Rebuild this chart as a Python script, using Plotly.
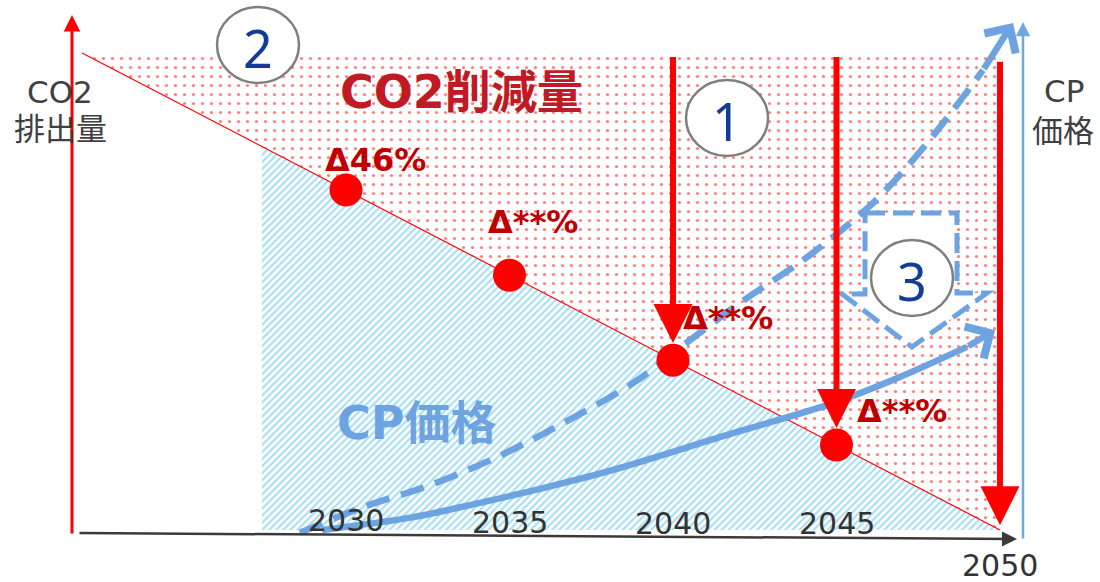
import plotly.graph_objects as go

# ---------------- data ----------------
base_year = 2021.93                      # start of the emission line (base = 100)
line_years = [base_year, 2050]
emission = [100, 0]                      # CO2 排出量 (index)
top_years = [base_year, 2050, 2050]
top_level = [100, 100, 0]

milestone_years = [2030, 2035, 2040, 2045]
milestone_emission = [71.3, 53.4, 35.6, 17.8]
milestone_labels = ["Δ46%", "Δ**%", "Δ**%", "Δ**%"]

arrow_years = [2040, 2045, 2050]
arrow_from = [99.5, 99.5, 98.5]
arrow_to = [35.6, 17.8, 0]

cp_area_years = [2027.43, 2027.43, 2050]
cp_area_top = [0, 80.4, 0]

cp_high_years = [2028.59, 2030.52, 2032.57, 2034.62, 2036.64, 2038.78, 2040.00,
                 2042.05, 2044.10, 2046.12, 2047.34, 2048.26, 2049.48, 2050.40]
cp_high = [-0.6, 4.8, 9.4, 15.3, 22.4, 30.8, 37.1, 47.6, 57.2, 68.6, 77.6, 85.3, 96.4, 106.3]

cp_low_years = [2029.27, 2032.05, 2034.10, 2036.15, 2038.17, 2041.83, 2044.89,
                2046.94, 2048.99, 2049.85]
cp_low = [0.0, 2.7, 5.7, 9.0, 12.6, 20.3, 26.6, 32.1, 38.4, 41.9]

tick_years = [2030, 2035, 2040, 2045, 2050]
tick_labels = ["2030", "2035", "2040", "2045", "2050"]

# ------------- helpers for decoration placement (pixel -> axis units) -------------
def X(px):
    return 2050 - (1000 - px) / 32.7

def Y(py):
    return (530 - py) / 4.77

RED = "#FF0000"
DARKRED = "#C00000"
BLUE = "#6CA3E0"
GRAY = "#3A3A3A"
NUMBLUE = "#123C97"
LATIN_CJK = "DejaVu Sans, Noto Sans CJK JP"

fig = go.Figure()

# dotted CO2 reduction area
fig.add_trace(go.Scatter(
    x=top_years + [line_years[0]], y=top_level + [emission[0]],
    mode="lines", fill="toself", line=dict(width=0),
    fillcolor="rgba(255,255,255,0)",
    fillpattern=dict(shape=".", fgcolor=RED, bgcolor="white", size=9, solidity=0.1),
    hoverinfo="skip"))

# hatched CP price area
fig.add_trace(go.Scatter(
    x=cp_area_years + [cp_area_years[0]], y=cp_area_top + [cp_area_top[0]],
    mode="lines", fill="toself", line=dict(width=0),
    fillcolor="rgba(255,255,255,0)",
    fillpattern=dict(shape="/", fgcolor="#52BFE6", bgcolor="white", size=5, solidity=0.45),
    hoverinfo="skip"))

# emission line
fig.add_trace(go.Scatter(x=line_years, y=emission, mode="lines",
                         line=dict(color=RED, width=1.2), hoverinfo="skip"))

# CP price curves
fig.add_trace(go.Scatter(x=cp_high_years[:-1], y=cp_high[:-1], mode="lines",
                         line=dict(color=BLUE, width=6.5, dash="24px,12px", shape="spline"),
                         hoverinfo="skip"))
fig.add_trace(go.Scatter(x=cp_low_years[:-1], y=cp_low[:-1], mode="lines",
                         line=dict(color=BLUE, width=6.5, shape="spline"),
                         hoverinfo="skip"))

# milestone dots
fig.add_trace(go.Scatter(x=milestone_years, y=milestone_emission, mode="markers",
                         marker=dict(color=RED, size=33, line=dict(width=0)),
                         hoverinfo="skip"))

annotations = []

def arrow(x, y, ax, ay, color, width, head, size):
    annotations.append(dict(x=x, y=y, ax=ax, ay=ay, xref="x", yref="y",
                            axref="x", ayref="y", text="", showarrow=True,
                            arrowhead=head, arrowsize=size, arrowwidth=width,
                            arrowcolor=color, standoff=0, startstandoff=0))

# axes
arrow(X(72), Y(15), X(72), Y(535), RED, 3, 2, 1.1)
arrow(X(1023), Y(22), X(1023), Y(540), "#6FA8DC", 2.5, 2, 1.15)
arrow(X(1017), Y(539), X(78), Y(533), GRAY, 2.5, 2, 1.2)

# curve heads
arrow(cp_high_years[-1], cp_high[-1], cp_high_years[-2], cp_high[-2], BLUE, 6.5, 4, 1.1)
arrow(cp_low_years[-1], cp_low[-1], cp_low_years[-2], cp_low[-2], BLUE, 6.5, 4, 1.1)

# reduction arrows
for yr, a0, a1 in zip(arrow_years, arrow_from, arrow_to):
    tip = a1 + (3.6 if a1 > 0 else 1.0)
    arrow(yr, tip, yr, a0, RED, 6, 2, 1.3)

def text(px, py, s, size, color, bold=False, family=LATIN_CJK):
    annotations.append(dict(x=X(px), y=Y(py), xref="x", yref="y", text=s,
                            showarrow=False, xanchor="center", yanchor="middle",
                            font=dict(family=family, size=size, color=color,
                                      weight="bold" if bold else "normal")))

text(60, 92, "CO2", 31, "#404040")
text(60, 129, "排出量", 31, "#404040")
text(1064, 91, "CP", 31, "#404040")
text(1063, 131, "価格", 31, "#404040")
text(461, 92, "CO2削減量", 46, "#C01A24", bold=True)
text(416, 423, "CP価格", 46, BLUE, bold=True)

label_pos = [(375, 160), (533, 222), (728, 318), (902, 411)]
for (px, py), s in zip(label_pos, milestone_labels):
    text(px, py, s, 32, DARKRED, bold=True)

tick_pos_y = [520, 522, 523, 523, 565]
for yr, lab, py in zip(tick_years, tick_labels, tick_pos_y):
    annotations.append(dict(x=yr, y=Y(py), xref="x", yref="y", text=lab,
                            showarrow=False, xanchor="center", yanchor="middle",
                            font=dict(family="DejaVu Sans", size=30, color="#333333")))

# shapes: block arrow and numbered circles
shapes = []
pts = [(865, 213), (957, 213), (957, 293), (987, 293), (912, 347), (842, 294), (865, 294)]
path = "M " + " L ".join(f"{X(a)},{Y(b)}" for a, b in pts) + " Z"
shapes.append(dict(type="path", path=path, xref="x", yref="y", layer="above",
                   fillcolor="white", line=dict(color=BLUE, width=5, dash="20px,8px")))

circles = [((258, 45), "2"), ((727, 118), "1"), ((912, 278), "3")]
for (cx, cy), num in circles:
    shapes.append(dict(type="circle", xref="x", yref="y", layer="above",
                       x0=X(cx - 41), x1=X(cx + 41), y0=Y(cy + 38), y1=Y(cy - 38),
                       fillcolor="white", line=dict(color="#7F7F7F", width=2.5)))
    text(cx, cy + 2, num, 52, NUMBLUE, family="Noto Sans")

fig.update_layout(
    width=1100, height=582, autosize=False,
    margin=dict(l=0, r=0, t=0, b=0, pad=0),
    paper_bgcolor="white", plot_bgcolor="white",
    showlegend=False,
    xaxis=dict(range=[X(0), X(1100)], visible=False, fixedrange=True),
    yaxis=dict(range=[Y(582), Y(0)], visible=False, fixedrange=True),
    shapes=shapes, annotations=annotations,
)

fig.write_html("out.html")
